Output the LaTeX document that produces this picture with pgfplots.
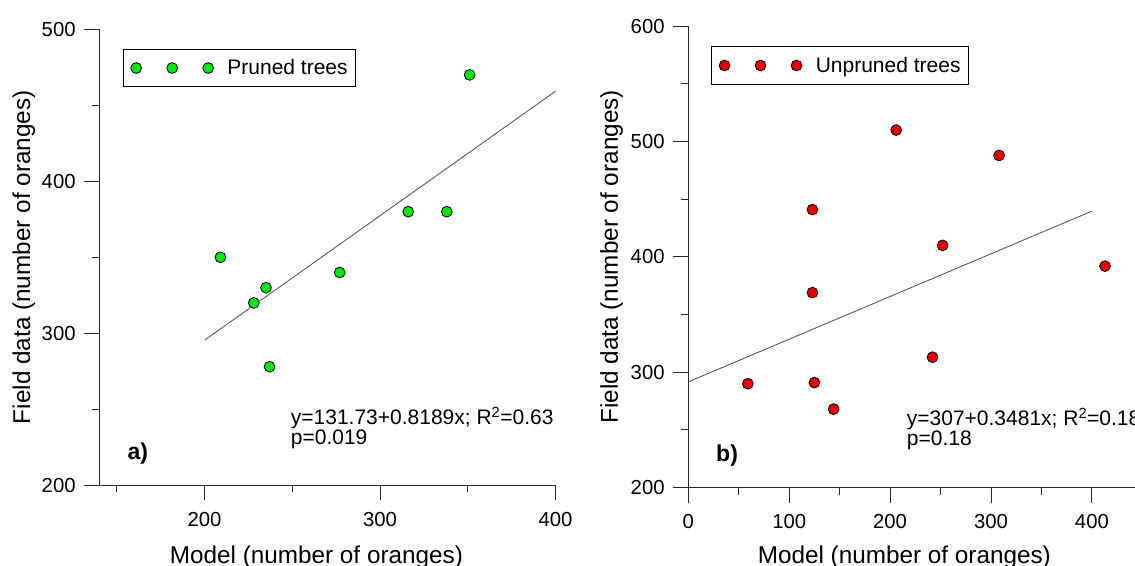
\documentclass[border=0pt]{standalone}
\usepackage{pgfplots}
\pgfplotsset{compat=1.18}
\usepackage{fontspec}
\setmainfont{Liberation Sans}
\definecolor{pgreen}{RGB}{5,232,5}
\definecolor{ured}{RGB}{232,0,0}
\definecolor{fitgray}{RGB}{90,90,90}
\pgfplotsset{
  myaxis/.style={
    scale only axis,
    axis x line=bottom, axis y line=left,
    axis line style={black!85, line width=1pt, -},
    x axis line style={-}, y axis line style={-},
    tick align=outside,
    major tick length=15pt, minor tick length=7pt,
    tick style={black!85, line width=1pt},
    tick label style={font=\fontsize{20.3}{24}\selectfont, inner sep=0pt},
    xticklabel style={yshift=-12pt},
    yticklabel style={xshift=-8.5pt},
    /pgf/number format/assume math mode=true,
    legend cell align=left,
    legend style={draw=black, line width=1pt, font=\fontsize{21}{24}\selectfont, anchor=north west,
      nodes={inner sep=0pt}, inner xsep=7.6pt, inner ysep=10.5pt, column sep=0pt},
    threemarks/.style={legend image code/.code={%
      \draw[##1, only marks, mark repeat=1, mark phase=1] plot coordinates {(0pt,0pt) (36pt,0pt) (72pt,0pt)};
      \path (90.8pt,0pt);}},
  }
}
\begin{document}
\begin{tikzpicture}
% ---------- panel a ----------
\begin{axis}[myaxis, at={(99.3pt,79.7pt)}, anchor=south west,
  width=456.3pt, height=456pt,
  xmin=140, xmax=400, ymin=200, ymax=500,
  xtick={200,300,400}, minor xtick={150,250,350},
  ytick={200,300,400,500}, minor ytick={250,350,450},
  legend style={at={(rel axis cs:0.0512,0.9575)}}]
\addplot[fitgray, line width=0.9pt, forget plot] coordinates {(200,295.51) (400,459.29)};
\addplot[only marks, mark=*, mark size=5.4pt, mark options={fill=pgreen, draw=black, line width=0.8pt}, threemarks]
  coordinates {(209,350) (235,330) (228,320) (237,278) (277,340) (316,380) (338,380) (351,470)};
\addlegendentry{Pruned trees}
\end{axis}
% ---------- panel b ----------
\begin{axis}[myaxis, at={(688.3pt,77.5pt)}, anchor=south west,
  width=454.05pt, height=461.2pt,
  xmin=0, xmax=450, ymin=200, ymax=600,
  xtick={0,100,200,300,400}, minor xtick={50,150,250,350,450},
  ytick={200,300,400,500,600}, minor ytick={250,350,450,550},
  legend style={at={(rel axis cs:0.05,0.957)}}]
\addplot[fitgray, line width=0.9pt, forget plot] coordinates {(0,291.6) (400,439.7)};
\addplot[only marks, mark=*, mark size=5.4pt, mark options={fill=ured, draw=black, line width=0.8pt}, threemarks]
  coordinates {(59,290) (123,441) (123,369) (125,291) (144,268) (206,510) (242,313) (252,410) (308,488) (413,392)};
\addlegendentry{Unpruned trees}
\end{axis}
% ---------- labels ----------
\node[anchor=base, inner sep=0, font=\fontsize{24.3}{28}\selectfont] at (316.4pt,2pt) {Model (number of oranges)};
\node[anchor=base, rotate=90, inner sep=0, font=\fontsize{24.3}{28}\selectfont] at (30pt,307.7pt) {Field data (number of oranges)};
\node[anchor=base, inner sep=0, font=\fontsize{24.3}{28}\selectfont] at (904.3pt,2pt) {Model (number of oranges)};
\node[anchor=base, rotate=90, inner sep=0, font=\fontsize{24.3}{28}\selectfont] at (617.8pt,308.1pt) {Field data (number of oranges)};
% annotations
\node[anchor=base west, inner sep=0, font=\fontsize{21}{24}\selectfont] at (290.7pt,140pt) {y=131.73+0.8189x; R\textsuperscript{2}=0.63};
\node[anchor=base west, inner sep=0, font=\fontsize{21}{24}\selectfont] at (290.7pt,120pt) {p=0.019};
\node[anchor=base west, inner sep=0, font=\bfseries\fontsize{23}{28}\selectfont] at (127.3pt,105.7pt) {a)};
\node[anchor=base west, inner sep=0, font=\fontsize{21}{24}\selectfont] at (906.7pt,139pt) {y=307+0.3481x; R\textsuperscript{2}=0.18};
\node[anchor=base west, inner sep=0, font=\fontsize{21}{24}\selectfont] at (906.7pt,119pt) {p=0.18};
\node[anchor=base west, inner sep=0, font=\bfseries\fontsize{23}{28}\selectfont] at (716pt,103.3pt) {b)};
\pgfresetboundingbox
\path[use as bounding box] (0pt,0pt) rectangle (1135pt,565pt);
\end{tikzpicture}
\end{document}
